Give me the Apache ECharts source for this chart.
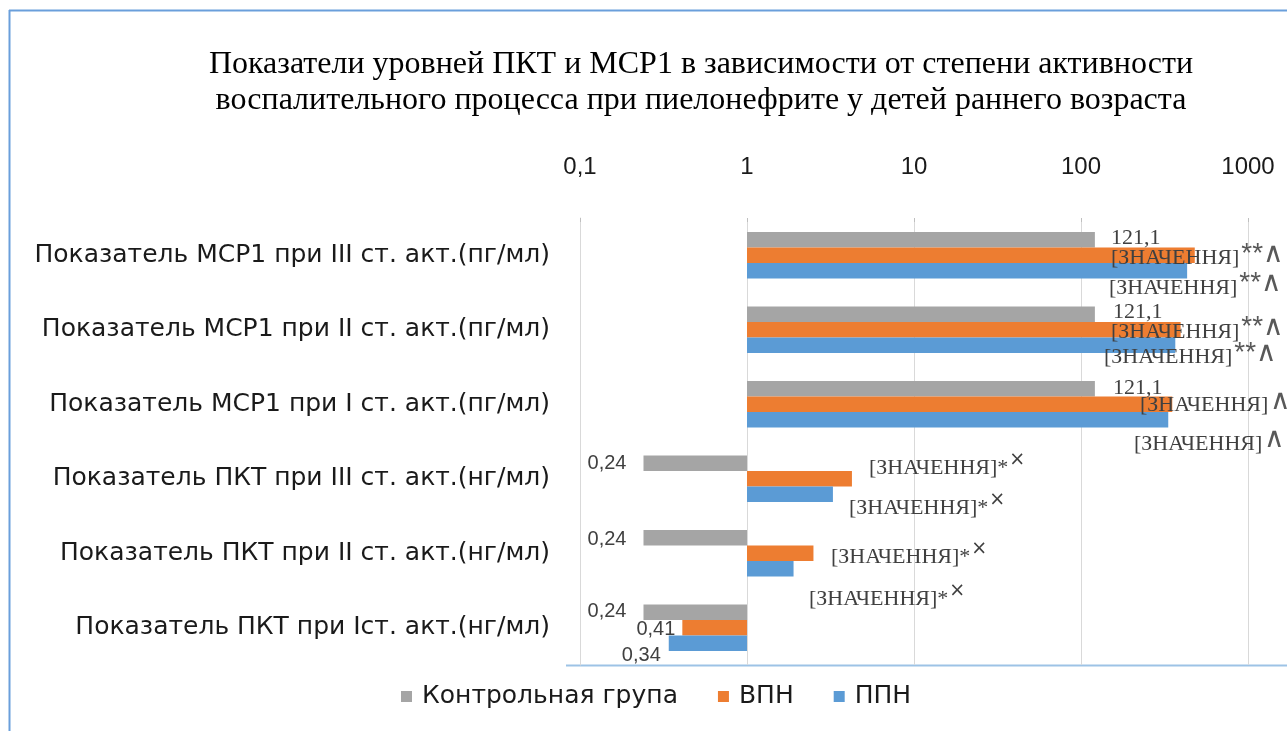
<!DOCTYPE html>
<html>
<head>
<meta charset="utf-8">
<script src="https://cdn.jsdelivr.net/npm/echarts@6/dist/echarts.min.js"></script>
<style>
html,body{margin:0;padding:0;background:#fff;}
#chart{width:1287px;height:731px;}
</style>
</head>
<body>
<div id="chart"></div>
<script>
// ---- data ----
const titleLines = ['Показатели уровней ПКТ и МСР1 в зависимости от степени активности',
                    'воспалительного процесса при пиелонефрите у детей раннего возраста'];
const categories = [
  'Показатель МСР1 при III ст. акт.(пг/мл)',
  'Показатель МСР1 при II ст. акт.(пг/мл)',
  'Показатель МСР1 при I ст. акт.(пг/мл)',
  'Показатель ПКТ при III ст. акт.(нг/мл)',
  'Показатель ПКТ при II ст. акт.(нг/мл)',
  'Показатель ПКТ при Iст. акт.(нг/мл)'
];
const seriesNames = ['Контрольная група', 'ВПН', 'ППН'];
const controlValues = [121.1, 121.1, 121.1, 0.24, 0.24, 0.24];
const vpnValues = [480, 395, 352, 4.25, 2.5, 0.41];
const ppnValues = [432, 367, 333, 3.27, 1.9, 0.34];
const axisTicks = [0.1, 1, 10, 100, 1000];
// label texts: main part and mark part
const controlLabelMain = ['121,1', '121,1', '121,1', '0,24', '0,24', '0,24'];
const controlLabelMark = ['', '', '', '', '', ''];
const vpnLabelMain = ['[ЗНАЧЕННЯ]', '[ЗНАЧЕННЯ]', '[ЗНАЧЕННЯ]', '[ЗНАЧЕННЯ]', '[ЗНАЧЕННЯ]', '0,41'];
const vpnLabelMark = ['**∧', '**∧', '∧', '*×', '*×', ''];
const ppnLabelMain = ['[ЗНАЧЕННЯ]', '[ЗНАЧЕННЯ]', '[ЗНАЧЕННЯ]', '[ЗНАЧЕННЯ]', '[ЗНАЧЕННЯ]', '0,34'];
const ppnLabelMark = ['**∧', '**∧', '∧', '*×', '*×', ''];

// ---- label layout (style only) ----
const controlLabelLayout = [['insideLeft', 359, -2], ['insideLeft', 361, -2], ['insideLeft', 361, -1],
                            ['left', -12, 0], ['left', -12, 2], ['left', -12, -1]];
const vpnLabelLayout = [['insideLeft', 359, 3], ['insideLeft', 359, 2], ['insideLeft', 388, 1],
                        ['insideLeft', 117, -11], ['insideLeft', 79, 4], ['left', -2, 2]];
const ppnLabelLayout = [['insideLeft', 357, 17], ['insideLeft', 352, 12], ['insideLeft', 382, 24],
                        ['insideLeft', 97, 14], ['insideLeft', 57, 30], ['left', -3, 12]];

const colors = ['#A5A5A5', '#ED7D31', '#5B9BD5'];

function isNumLabel(s) { return /^[0-9]/.test(s); }
function fmtLabel(main, mark) {
  let s;
  if (isNumLabel(main)) {
    s = (main.indexOf('121') === 0) ? '{ns|' + main + '}' : '{n|' + main + '}';
  } else {
    s = '{v|' + main + '}';
  }
  if (mark === '**∧') s += '{s|**∧}';
  else if (mark === '∧') s += '{s|∧}';
  else if (mark === '*×') s += '{v|*}{x|×}';
  return s;
}
const rich = {
  v: {fontFamily: '"Liberation Serif"', fontSize: 22, color: '#404040'},
  ns: {fontFamily: '"Liberation Serif"', fontSize: 22, color: '#404040'},
  n: {fontFamily: '"Liberation Sans"', fontSize: 20, color: '#404040'},
  s: {fontFamily: '"Liberation Sans"', fontSize: 28, color: '#595959', padding: [0, 0, 8, 2]},
  x: {fontFamily: '"DejaVu Sans"', fontSize: 19, color: '#404040', padding: [0, 0, 16, 1]}
};

function buildData(values, mains, marks, layout) {
  return values.map((v, i) => ({
    value: v,
    label: {
      show: true,
      position: layout[i][0],
      offset: [layout[i][1], layout[i][2]],
      formatter: fmtLabel(mains[i], marks[i]),
      rich: rich
    }
  }));
}

const chart = echarts.init(document.getElementById('chart'), null, {renderer: 'canvas'});
const option = {
  animation: false,
  backgroundColor: '#fff',
  color: colors,
  textStyle: {fontFamily: '"DejaVu Sans"'},
  grid: {left: 580, right: 39, top: 218, bottom: 66, containLabel: false},
  legend: {
    data: seriesNames,
    left: 396, top: 679,
    icon: 'rect', itemWidth: 11, itemHeight: 11, itemGap: 40,
    textStyle: {fontFamily: '"DejaVu Sans"', fontSize: 25, color: '#1a1a1a', padding: [0, 0, 0, 5]}
  },
  xAxis: {
    type: 'log', logBase: 10, min: 0.1, max: 1000, position: 'top',
    axisLine: {show: false},
    axisTick: {show: true, length: 4, inside: true, lineStyle: {color: '#BFBFBF'}},
    splitLine: {show: true, lineStyle: {color: '#D9D9D9', width: 1}},
    axisLabel: {
      fontFamily: '"Liberation Sans"', fontSize: 24, color: '#1a1a1a', margin: 39,
      formatter: function (v) {
        const t = axisTicks.find(a => Math.abs(a - v) < 1e-9 * Math.max(1, a)) ;
        return String(t !== undefined ? t : v).replace('.', ',');
      }
    }
  },
  yAxis: {
    type: 'category', data: categories, inverse: true,
    axisLine: {show: true, lineStyle: {color: '#D9D9D9'}},
    axisTick: {show: false},
    axisLabel: {fontFamily: '"DejaVu Sans"', fontSize: 25, color: '#1a1a1a', margin: 30}
  },
  series: [
    {name: seriesNames[0], type: 'bar', barGap: '0%', barCategoryGap: '37.5%',
     data: buildData(controlValues, controlLabelMain, controlLabelMark, controlLabelLayout)},
    {name: seriesNames[1], type: 'bar', barGap: '0%', barCategoryGap: '37.5%',
     data: buildData(vpnValues, vpnLabelMain, vpnLabelMark, vpnLabelLayout)},
    {name: seriesNames[2], type: 'bar', barGap: '0%', barCategoryGap: '37.5%',
     data: buildData(ppnValues, ppnLabelMain, ppnLabelMark, ppnLabelLayout)}
  ],
  graphic: [
    {type: 'text', x: 701, y: 83, silent: true,
     style: {text: titleLines.join('\n'), font: '32px "Liberation Serif"', fill: '#000',
             align: 'center', verticalAlign: 'middle', lineHeight: 36}},
    {type: 'line', silent: true, shape: {x1: 9.5, y1: 10, x2: 9.5, y2: 731},
     style: {stroke: '#6A9FDB', lineWidth: 2}},
    {type: 'line', silent: true, shape: {x1: 9, y1: 10.5, x2: 1287, y2: 10.5},
     style: {stroke: '#6A9FDB', lineWidth: 2}},
    {type: 'line', silent: true, shape: {x1: 566, y1: 665.5, x2: 1287, y2: 665.5},
     style: {stroke: '#9DC3E6', lineWidth: 2}}
  ]
};
chart.setOption(option);
</script>
</body>
</html>
